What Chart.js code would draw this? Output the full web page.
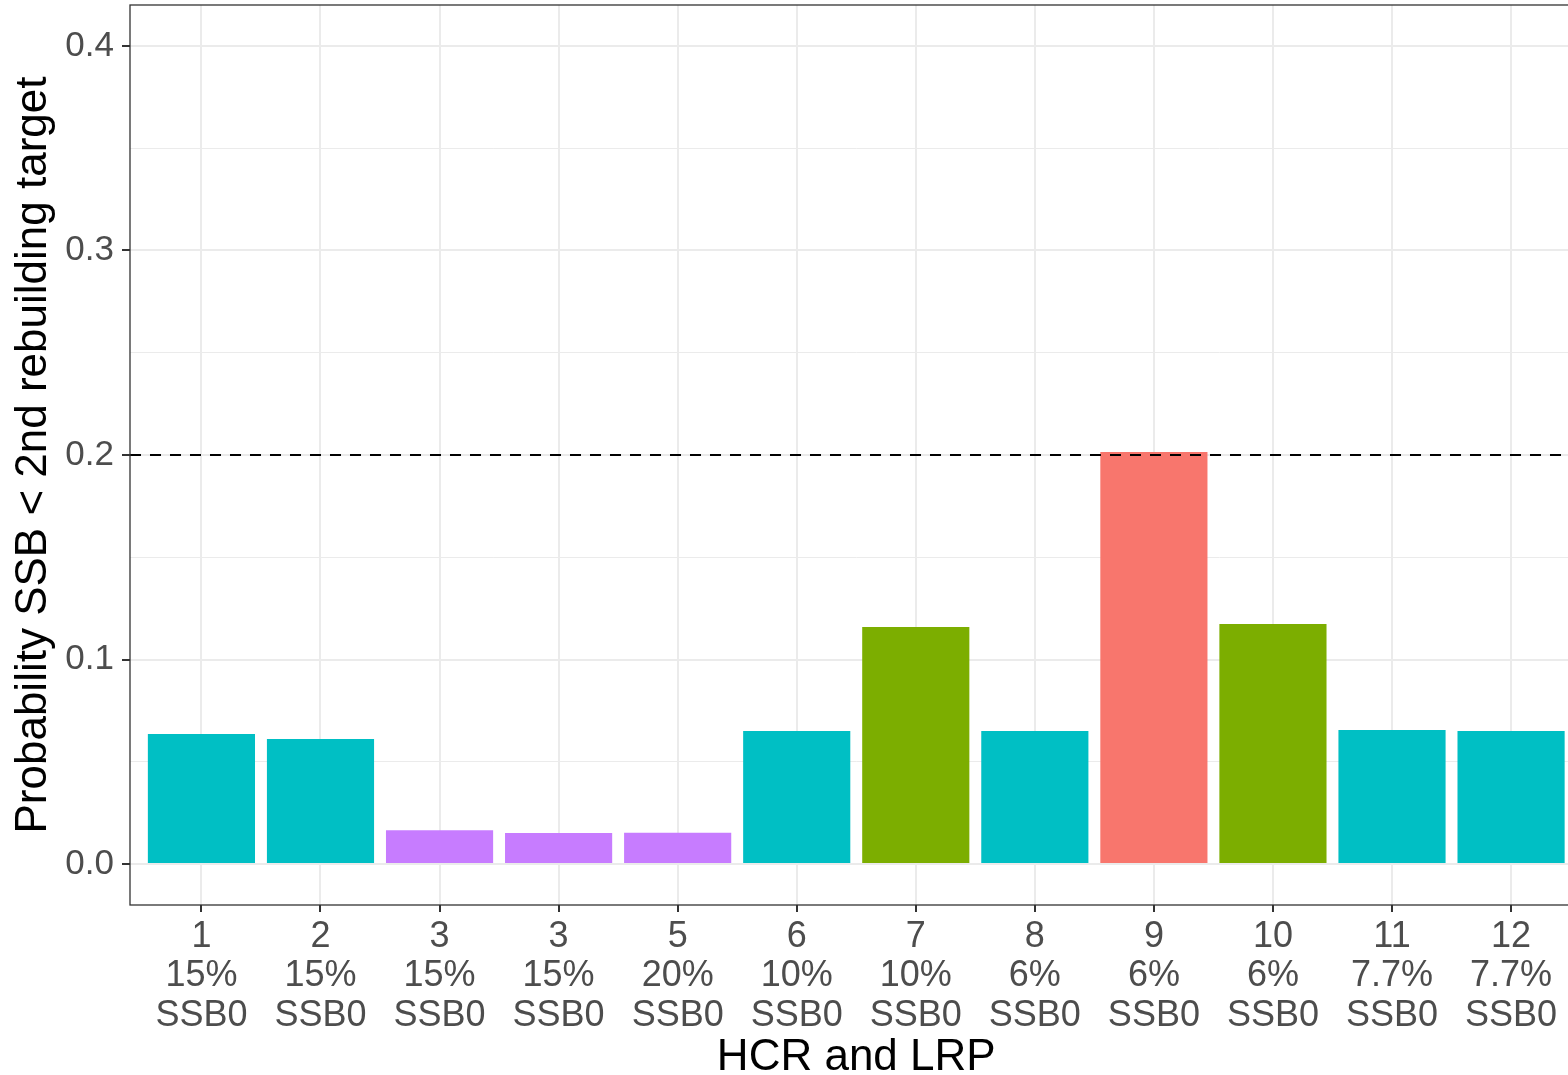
<!DOCTYPE html>
<html>
<head>
<meta charset="utf-8">
<script src="https://cdn.jsdelivr.net/npm/chart.js@4"></script>
<style>
  html, body { margin: 0; padding: 0; background: #fff; overflow: hidden; }
  #wrap { width: 1600px; height: 1075px; }
</style>
</head>
<body>
<div id="wrap"><canvas id="chartProb" width="1600" height="1075"></canvas></div>
<script>
// data
const hcr = ['1', '2', '3', '3', '5', '6', '7', '8', '9', '10', '11', '12'];
const lrp = ['15%', '15%', '15%', '15%', '20%', '10%', '10%', '6%', '6%', '6%', '7.7%', '7.7%'];
const refPoint = 'SSB0';
const probLow = [0.0636, 0.0611, 0.0166, 0.0152, 0.0153, 0.0651, 0.1159, 0.0651, 0.2015, 0.1174, 0.0656, 0.0651];
const groups = ['b', 'b', 'd', 'd', 'd', 'b', 'c', 'b', 'a', 'c', 'b', 'b'];
const groupColors = { a: '#F8766D', c: '#7CAE00', b: '#00BFC4', d: '#C77CFF' };
const yMajor = [0, 0.1, 0.2, 0.3, 0.4];
const yMinor = [0.05, 0.15, 0.25, 0.35];
const threshold = 0.2;

const FONT = '"Liberation Sans", Arial, sans-serif';
const isMajor = v => yMajor.some(m => Math.abs(m - v) < 1e-9);

// dashed reference line + panel border
const extras = {
  id: 'extras',
  afterDatasetsDraw(chart) {
    const { ctx, chartArea: a, scales } = chart;
    const y = scales.y.getPixelForValue(threshold);
    ctx.save();
    ctx.strokeStyle = '#000';
    ctx.lineWidth = 2;
    ctx.setLineDash([11, 9]);
    ctx.beginPath();
    ctx.moveTo(a.left, y);
    ctx.lineTo(a.right, y);
    ctx.stroke();
    ctx.restore();
  },
  afterDraw(chart) {
    const { ctx, chartArea: a } = chart;
    ctx.save();
    ctx.strokeStyle = '#333333';
    ctx.lineWidth = 1.3;
    ctx.strokeRect(a.left, a.top, a.right - a.left, a.bottom - a.top);
    ctx.restore();
  }
};

const ctx = document.getElementById('chartProb').getContext('2d');
const chart = new Chart(ctx, {
  type: 'bar',
  data: {
    datasets: [{
      data: probLow.map((v, i) => ({ x: i + 1, y: v })),
      backgroundColor: groups.map(g => groupColors[g]),
      borderWidth: 0,
      barPercentage: 0.9,
      categoryPercentage: 1
    }]
  },
  options: {
    responsive: false,
    animation: false,
    devicePixelRatio: 1,
    layout: { padding: { left: 0, top: 5, right: 17.5, bottom: 0 } },
    plugins: { legend: { display: false }, tooltip: { enabled: false } },
    scales: {
      x: {
        type: 'linear',
        min: 0.4,
        max: 12.6,
        offset: false,
        afterBuildTicks: s => { s.ticks = hcr.map((h, i) => ({ value: i + 1 })); },
        afterFit: s => { s.height = 170; s.paddingLeft = 0; s.paddingRight = 0; },
        border: { display: false },
        grid: { offset: false, color: '#EBEBEB', lineWidth: 2, tickColor: '#333333', tickWidth: 2, tickLength: 7 },
        ticks: {
          autoSkip: false,
          maxRotation: 0,
          padding: 5,
          color: '#4D4D4D',
          font: { family: FONT, size: 36, lineHeight: 1.1 },
          callback: v => {
            const i = Math.round(v) - 1;
            return [hcr[i], lrp[i], refPoint];
          }
        },
        title: {
          display: true,
          text: 'HCR and LRP',
          color: '#000',
          font: { family: FONT, size: 44, lineHeight: 0.78 },
          padding: { top: 0, bottom: 0 }
        }
      },
      y: {
        min: -0.02,
        max: 0.42,
        afterBuildTicks: s => {
          s.ticks = yMajor.concat(yMinor).sort((a, b) => a - b).map(v => ({ value: v }));
        },
        afterFit: s => { s.width = 130; s.paddingTop = 0; s.paddingBottom = 0; },
        border: { display: false },
        grid: {
          color: '#EBEBEB',
          lineWidth: c => (c.tick && isMajor(c.tick.value) ? 2 : 1),
          tickColor: c => (c.tick && isMajor(c.tick.value) ? '#333333' : 'rgba(0,0,0,0)'),
          tickWidth: 2,
          tickLength: 8
        },
        ticks: {
          padding: 8,
          color: '#4D4D4D',
          font: { family: FONT, size: 35 },
          callback: v => (isMajor(v) ? v.toFixed(1) : '')
        },
        title: {
          display: true,
          text: 'Probability SSB < 2nd rebuilding target',
          color: '#000',
          font: { family: FONT, size: 44, lineHeight: 1.2 },
          padding: { top: 7, bottom: 0 }
        }
      }
    }
  },
  plugins: [extras]
});
</script>
</body>
</html>
